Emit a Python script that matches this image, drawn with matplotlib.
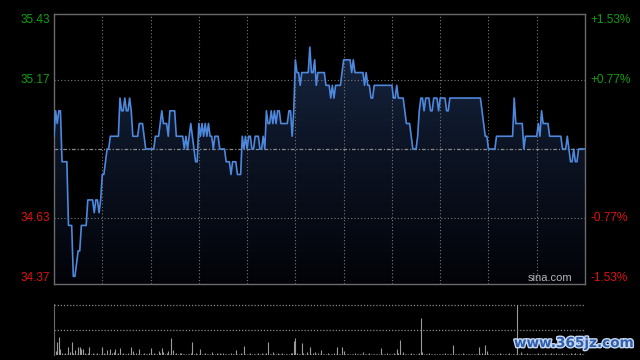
import numpy as np
import matplotlib
matplotlib.use("Agg")
import matplotlib.pyplot as plt
from matplotlib.colors import LinearSegmentedColormap
from matplotlib.patches import PathPatch
import matplotlib.patheffects as pe

# intraday prices, one per minute (HK session 09:30-12:00, 13:00-16:00)
price = [
    34.95, 35.05, 35.00, 35.05, 35.05, 34.85, 34.85, 34.85, 34.85, 34.60, 34.60, 34.60, 34.40, 34.40, 34.45, 34.50, 34.50, 34.60, 34.60, 34.60,
    34.60, 34.70, 34.70, 34.70, 34.70, 34.65, 34.70, 34.70, 34.65, 34.70, 34.80, 34.80, 34.85, 34.90, 34.90, 34.95, 34.95, 34.95, 34.95, 34.95,
    34.95, 35.10, 35.05, 35.05, 35.10, 35.05, 35.05, 35.10, 35.05, 34.95, 34.95, 34.95, 34.95, 35.00, 35.00, 35.00, 34.95, 34.90, 34.90, 34.90,
    34.90, 34.90, 34.90, 34.95, 34.95, 34.95, 35.00, 35.05, 35.00, 35.00, 35.00, 34.95, 35.05, 35.05, 35.05, 35.05, 34.95, 34.95, 34.95, 34.95,
    34.95, 34.90, 34.95, 34.90, 34.95, 35.00, 34.95, 34.90, 34.85, 34.85, 35.00, 34.95, 35.00, 34.95, 35.00, 34.95, 35.00, 34.95, 34.95, 34.90,
    34.95, 34.95, 34.95, 34.90, 34.90, 34.90, 34.90, 34.85, 34.85, 34.85, 34.80, 34.85, 34.85, 34.85, 34.80, 34.80, 34.80, 34.95, 34.90, 34.95,
    34.90, 34.95, 34.95, 34.90, 34.90, 34.95, 34.95, 34.95, 34.90, 34.90, 34.95, 34.90, 35.05, 35.00, 35.00, 35.05, 35.00, 35.05, 35.00, 35.05,
    35.05, 35.00, 35.00, 35.00, 35.00, 35.00, 35.05, 35.05, 34.95, 35.05, 35.25, 35.20, 35.20, 35.15, 35.20, 35.20, 35.20, 35.20, 35.20, 35.30,
    35.20, 35.20, 35.25, 35.15, 35.20, 35.20, 35.20, 35.20, 35.20, 35.15, 35.15, 35.15, 35.10, 35.15, 35.10, 35.15, 35.15, 35.15, 35.15, 35.20,
    35.25, 35.25, 35.25, 35.25, 35.25, 35.20, 35.25, 35.20, 35.20, 35.20, 35.20, 35.20, 35.20, 35.15, 35.20, 35.15, 35.15, 35.10, 35.10, 35.15,
    35.15, 35.15, 35.15, 35.15, 35.15, 35.15, 35.15, 35.15, 35.15, 35.15, 35.15, 35.10, 35.10, 35.15, 35.10, 35.10, 35.10, 35.10, 35.05, 35.00,
    35.00, 35.00, 34.95, 34.90, 34.90, 34.90, 34.95, 35.05, 35.10, 35.10, 35.05, 35.10, 35.10, 35.10, 35.05, 35.05, 35.10, 35.10, 35.10, 35.05,
    35.10, 35.10, 35.10, 35.10, 35.05, 35.05, 35.10, 35.10, 35.10, 35.10, 35.10, 35.10, 35.10, 35.10, 35.10, 35.10, 35.10, 35.10, 35.10, 35.10,
    35.10, 35.10, 35.10, 35.10, 35.10, 35.10, 35.05, 35.00, 34.95, 34.95, 34.90, 34.90, 34.90, 34.90, 34.90, 34.95, 34.95, 34.95, 34.95, 34.95,
    34.95, 34.95, 34.95, 34.95, 34.95, 34.95, 35.10, 35.00, 35.00, 35.00, 35.00, 35.00, 34.90, 34.95, 34.95, 34.95, 34.95, 34.95, 34.95, 34.95,
    34.95, 35.00, 34.95, 35.05, 35.00, 35.00, 35.00, 35.00, 34.95, 34.95, 34.95, 34.95, 34.95, 34.95, 34.95, 34.95, 34.90, 34.90, 34.90, 34.95,
    34.90, 34.85, 34.85, 34.90, 34.85, 34.85, 34.90, 34.90, 34.90, 34.90, 34.90,
]

# volume per minute (relative units)
volume = [
    17, 4, 13, 18, 6, 2, 1, 2, 1, 8, 3, 13, 2, 5, 1, 8, 8, 6, 6, 2,
    1, 2, 8, 1, 2, 1, 1, 2, 1, 1, 8, 2, 1, 5, 1, 6, 2, 3, 6, 1,
    2, 7, 1, 2, 1, 1, 2, 1, 8, 4, 1, 2, 1, 6, 1, 1, 2, 1, 1, 2,
    7, 1, 2, 1, 1, 4, 2, 7, 3, 1, 2, 4, 1, 17, 5, 1, 2, 1, 2, 2,
    1, 1, 1, 1, 1, 2, 13, 1, 2, 1, 1, 6, 1, 1, 2, 1, 1, 1, 3, 1,
    1, 2, 1, 2, 1, 2, 1, 1, 1, 1, 2, 1, 1, 5, 1, 1, 2, 1, 9, 1,
    1, 1, 2, 1, 1, 1, 1, 2, 1, 2, 1, 1, 2, 13, 1, 1, 3, 1, 1, 2,
    1, 1, 2, 1, 1, 1, 1, 2, 2, 14, 17, 2, 1, 1, 12, 2, 1, 3, 1, 8,
    1, 2, 3, 1, 2, 1, 5, 1, 1, 1, 2, 1, 1, 1, 2, 1, 8, 1, 1, 8,
    4, 1, 1, 1, 1, 1, 1, 2, 1, 1, 1, 1, 3, 1, 1, 1, 2, 1, 1, 1,
    1, 1, 1, 7, 1, 1, 1, 2, 1, 1, 1, 2, 1, 6, 2, 15, 1, 3, 1, 1,
    1, 1, 2, 1, 1, 1, 1, 2, 37, 3, 1, 1, 1, 2, 1, 1, 1, 1, 1, 1,
    1, 1, 1, 2, 1, 1, 1, 1, 10, 1, 1, 1, 1, 1, 2, 1, 1, 1, 1, 1,
    1, 1, 1, 1, 8, 1, 2, 1, 10, 4, 1, 1, 1, 1, 1, 1, 1, 2, 1, 1,
    1, 1, 1, 2, 1, 1, 1, 1, 50, 1, 3, 1, 1, 1, 2, 1, 1, 1, 1, 1,
    1, 2, 1, 1, 1, 2, 1, 1, 1, 2, 1, 1, 2, 1, 1, 1, 2, 1, 1, 1,
    1, 2, 1, 1, 2, 1, 1, 2, 1, 1, 28,
]

prev_close = 34.90
price_ticks = [35.43, 35.17, 34.63, 34.37]
pct_labels = ["+1.53%", "+0.77%", "-0.77%", "-1.53%"]
tick_colors = ["#10a010", "#10a010", "#e01010", "#e01010"]
time_grid = [30, 60, 90, 120, 150, 180, 210, 240, 270, 300]

plt.rcParams['font.family'] = ['Liberation Sans', 'DejaVu Sans']

fig = plt.figure(figsize=(6.4, 3.6), dpi=100, facecolor='black')
ax = fig.add_axes([54/640, 1 - 284/360, 531/640, 270/360], facecolor='black')
axv = fig.add_axes([54/640, 1 - 355/360, 531/640, 51/360], facecolor='black')

x = np.arange(len(price))
ymin, ymax = price_ticks[-1], price_ticks[0]
nmin = len(price) - 1

# gradient fill under the price line
poly = ax.fill_between(x, price, ymin, color='none')
clip = PathPatch(poly.get_paths()[0], transform=ax.transData, facecolor='none', edgecolor='none')
ax.add_patch(clip)
cmap = LinearSegmentedColormap.from_list('fill', ['#020308', '#0c1424', '#1b2b4b'])
grad = np.linspace(1, 0, 256).reshape(-1, 1)
im = ax.imshow(grad, extent=[0, nmin, ymin, ymax], aspect='auto', cmap=cmap, zorder=1)
im.set_clip_path(clip)

# grid
for t in time_grid:
    ax.axvline(t, color='#7a7a7a', lw=0.8, ls=(0, (1, 2)), zorder=2)
for p in price_ticks[1:3]:
    ax.axhline(p, color='#7a7a7a', lw=0.8, ls=(0, (1, 2)), zorder=2)
ax.axhline(prev_close, color='#8a8a8a', lw=0.9, ls=(0, (3, 1.5, 1, 1.5)), zorder=2)

ax.plot(x, price, color='#4d88dd', lw=1.2, zorder=3)

ax.set_xlim(0, nmin)
ax.set_ylim(ymin, ymax)
ax.set_xticks([])
ax.set_yticks([])
for s in ax.spines.values():
    s.set_color('#6a6a6a')
    s.set_linewidth(1)

# axis labels
vas = ['top', 'center', 'center', 'bottom']
for p, lab, c, va in zip(price_ticks, pct_labels, tick_colors, vas):
    ax.annotate(f"{p:.2f}", xy=(0, p), xycoords=('axes fraction', 'data'),
                xytext=(-3, 0), textcoords='offset points', ha='right', va=va,
                fontsize=8.5, color=c)
    ax.annotate(lab, xy=(1, p), xycoords=('axes fraction', 'data'),
                xytext=(4, 0), textcoords='offset points', ha='left', va=va,
                fontsize=8.5, color=c)

ax.text(0.977, 0.002, "sina.com", transform=ax.transAxes, ha='right', va='bottom',
        fontsize=8, color='#b4b4b4', zorder=4)

# volume panel
vmax = max(volume)
axv.vlines(x, 0, volume, color='#9a9a9a', lw=0.8)
axv.axhline(vmax, color='#8a8a8a', lw=0.9, ls=(0, (1, 1.5)))
axv.axhline(vmax / 2, color='#8a8a8a', lw=0.9, ls=(0, (1, 1.5)))
axv.set_xlim(0, nmin)
axv.set_ylim(0, vmax * 1.01)
axv.set_xticks([])
axv.set_yticks([])
for k, s in axv.spines.items():
    s.set_visible(k == 'left')
axv.spines['left'].set_color('#6a6a6a')

fig.text(574/640, 1 - 343/360, "www.365jz.com", ha='center', va='center',
         fontsize=9.8, fontweight='bold', color='#2f5fae', family='DejaVu Sans',
         path_effects=[pe.withStroke(linewidth=2, foreground='#c8d8f0')])

fig.savefig('out.png', dpi=100, facecolor='black')
